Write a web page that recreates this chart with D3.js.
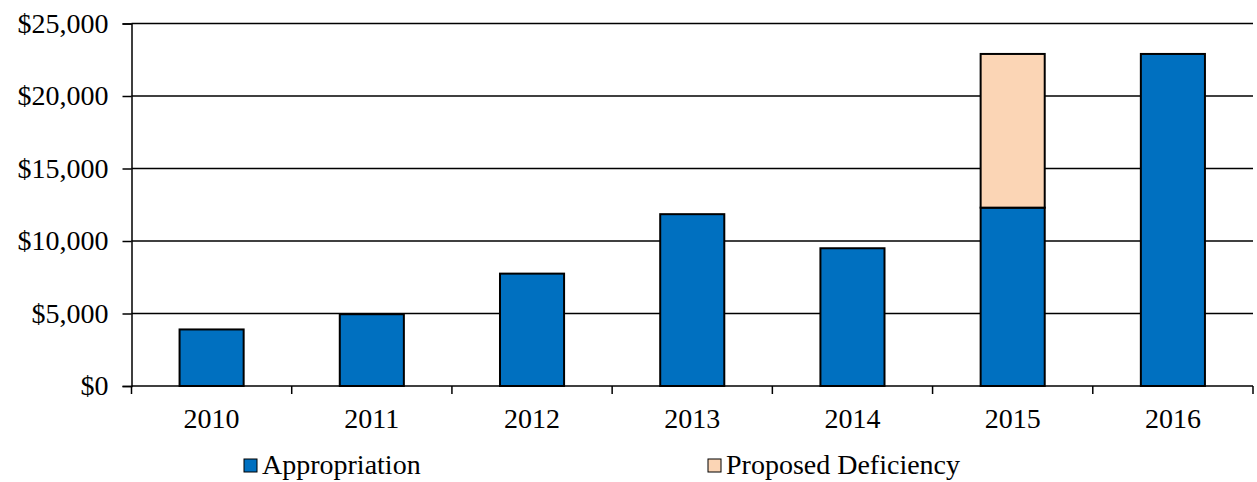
<!DOCTYPE html>
<html>
<head>
<meta charset="utf-8">
<script src="https://cdn.jsdelivr.net/npm/d3@7"></script>
<style>
  body { margin: 0; background: #fff; }
  svg text { font-family: "Liberation Serif", "Times New Roman", serif; fill: #000; }
</style>
</head>
<body>
<div id="chart"></div>
<script>
// chart data
const years = ["2010", "2011", "2012", "2013", "2014", "2015", "2016"];
const appropriation = [3900, 4950, 7750, 11850, 9500, 12300, 22900];
const deficiency = [0, 0, 0, 0, 0, 10600, 0];
const yTicks = [0, 5000, 10000, 15000, 20000, 25000];
const seriesNames = ["Appropriation", "Proposed Deficiency"];

const WIDTH = 1257;
const HEIGHT = 482;
const MARGIN = {top: 23.5, right: 4, bottom: 96, left: 131.5};
const COLORS = ["#0070C0", "#FBD5B5"];
const FONT_SIZE = 28;

const svg = d3.select("#chart").append("svg")
    .attr("width", WIDTH)
    .attr("height", HEIGHT);

const x = d3.scaleBand()
    .domain(years)
    .range([MARGIN.left, WIDTH - MARGIN.right])
    .paddingInner(0.6)
    .paddingOuter(0.3);

const y = d3.scaleLinear()
    .domain([0, 25000])
    .range([HEIGHT - MARGIN.bottom, MARGIN.top]);

// gridlines
svg.append("g")
    .selectAll("line")
    .data(yTicks.slice(1))
    .enter()
    .append("line")
    .attr("x1", MARGIN.left)
    .attr("x2", WIDTH - MARGIN.right)
    .attr("y1", d => y(d))
    .attr("y2", d => y(d))
    .attr("stroke", "#000")
    .attr("stroke-width", 1.5);

// y axis
const yAxis = svg.append("g")
    .attr("transform", `translate(${MARGIN.left},0)`)
    .call(d3.axisLeft(y).tickValues(yTicks).tickSize(9).tickPadding(14)
        .tickFormat(d => "$" + d3.format(",")(d)));
yAxis.select(".domain").attr("stroke", "#000").attr("stroke-width", 1.5);
yAxis.selectAll(".tick line").attr("stroke", "#000").attr("stroke-width", 1.5);
yAxis.selectAll("text").attr("font-size", FONT_SIZE);

// stacked bars
const stackData = years.map((yr, i) => ({year: yr, a: appropriation[i], d: deficiency[i]}));
const stacked = d3.stack().keys(["a", "d"])(stackData);

svg.append("g")
    .selectAll("g")
    .data(stacked)
    .enter()
    .append("g")
    .attr("fill", (d, i) => COLORS[i])
    .selectAll("rect")
    .data(d => d.filter(p => p[1] > p[0]))
    .enter()
    .append("rect")
    .attr("x", d => x(d.data.year))
    .attr("width", x.bandwidth())
    .attr("y", d => y(d[1]))
    .attr("height", d => y(d[0]) - y(d[1]))
    .attr("stroke", "#000")
    .attr("stroke-width", 2);

// x axis: ticks at category boundaries
const boundaries = d3.range(years.length + 1).map(i => MARGIN.left + i * (WIDTH - MARGIN.right - MARGIN.left) / years.length);
const xg = svg.append("g");
xg.append("line")
    .attr("x1", MARGIN.left).attr("x2", WIDTH - MARGIN.right)
    .attr("y1", y(0)).attr("y2", y(0))
    .attr("stroke", "#000").attr("stroke-width", 1.5);
xg.selectAll(".bt")
    .data(boundaries)
    .enter()
    .append("line")
    .attr("x1", d => d).attr("x2", d => d)
    .attr("y1", y(0)).attr("y2", y(0) + 8)
    .attr("stroke", "#000").attr("stroke-width", 1.5);
xg.selectAll("text")
    .data(years)
    .enter()
    .append("text")
    .attr("x", d => x(d) + x.bandwidth() / 2)
    .attr("y", y(0) + 42)
    .attr("text-anchor", "middle")
    .attr("font-size", FONT_SIZE)
    .text(d => d);

// legend
const legendX = [244, 708];
const legend = svg.append("g");
seriesNames.forEach((name, i) => {
    legend.append("rect")
        .attr("x", legendX[i]).attr("y", 459)
        .attr("width", 13).attr("height", 13)
        .attr("fill", COLORS[i])
        .attr("stroke", "#000").attr("stroke-width", 1);
    legend.append("text")
        .attr("x", legendX[i] + 18)
        .attr("y", 474)
        .attr("font-size", FONT_SIZE)
        .text(name);
});
</script>
</body>
</html>
